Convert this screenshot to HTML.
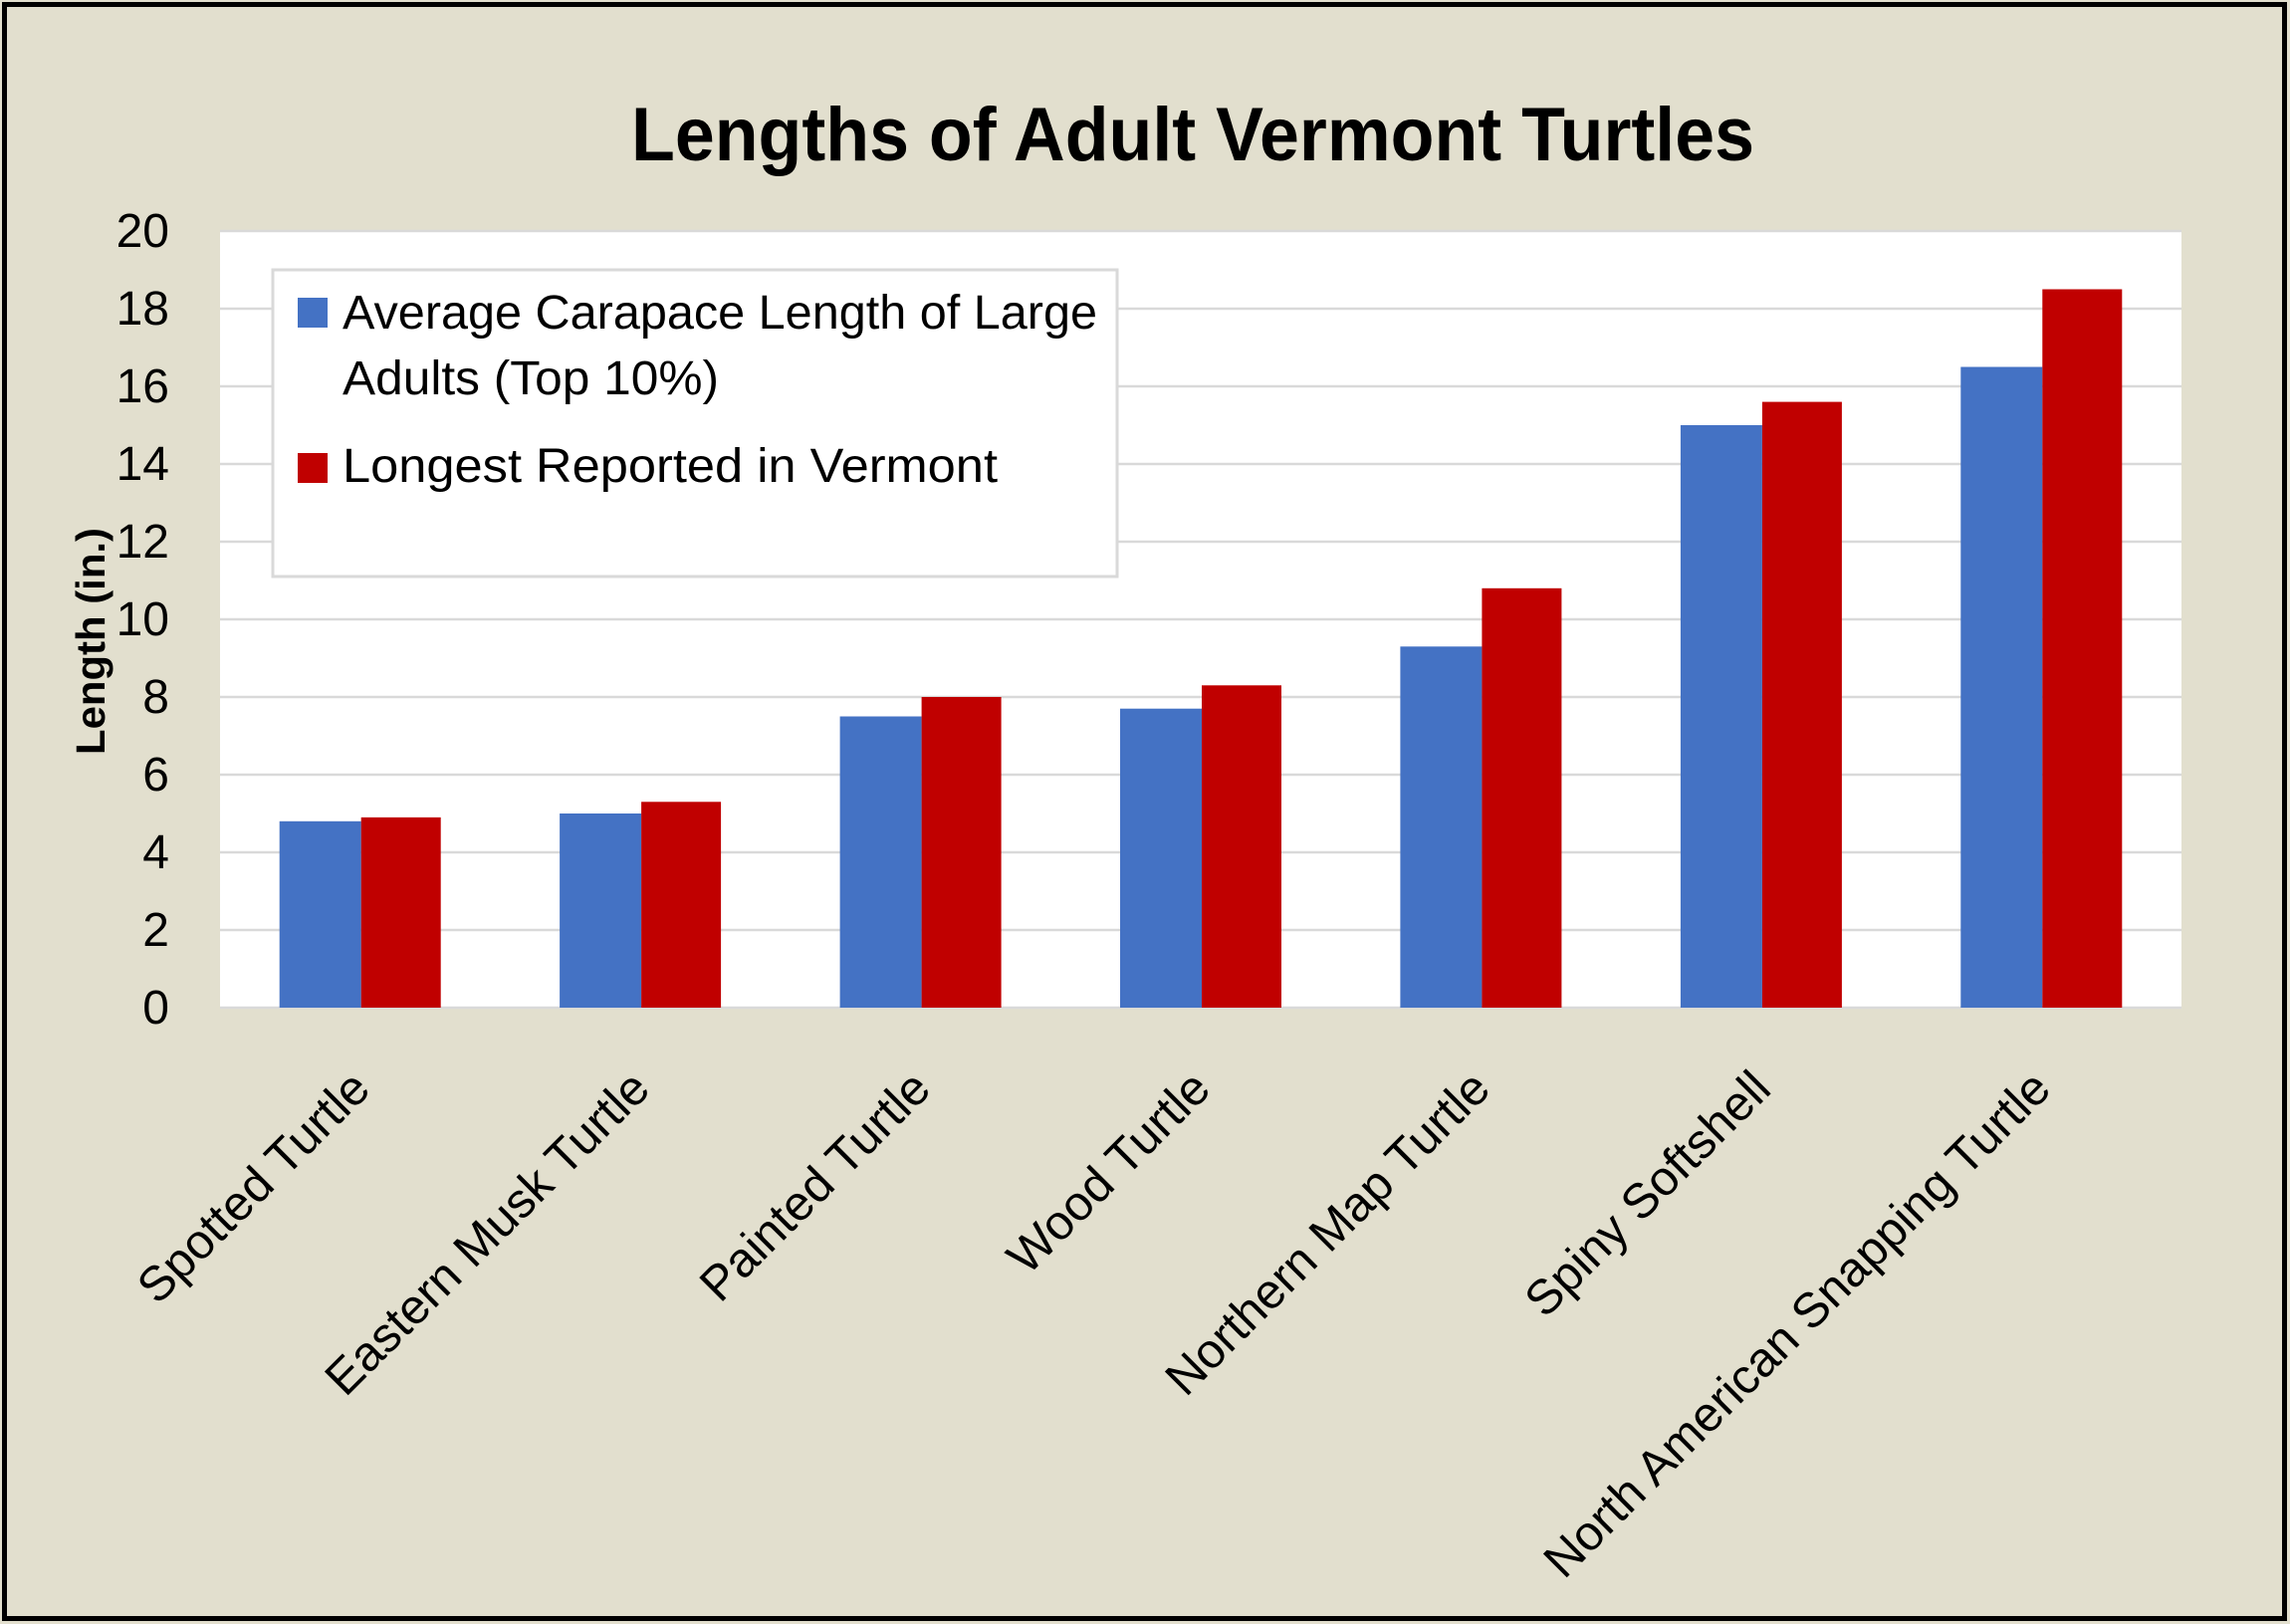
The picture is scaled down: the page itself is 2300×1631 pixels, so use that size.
<!DOCTYPE html>
<html><head><meta charset="utf-8"><style>
html,body{margin:0;padding:0;background:#E2DFCE;}
svg{display:block;}
</style></head><body>
<svg width="2300" height="1631" viewBox="0 0 2300 1631" xmlns="http://www.w3.org/2000/svg" font-family="Liberation Sans, sans-serif">
<rect x="0" y="0" width="2300" height="1631" fill="#E2DFCE"/>
<rect x="4.5" y="4.5" width="2290" height="1621" fill="none" stroke="#000" stroke-width="5"/>
<text x="1198" y="161" font-size="76" font-weight="bold" text-anchor="middle" textLength="1128" lengthAdjust="spacingAndGlyphs">Lengths of Adult Vermont Turtles</text>
<rect x="221" y="232" width="1970" height="780" fill="#fff"/>
<g stroke="#d9d9d9" stroke-width="2.5">
<line x1="221" x2="2191" y1="232" y2="232"/>
<line x1="221" x2="2191" y1="310" y2="310"/>
<line x1="221" x2="2191" y1="388" y2="388"/>
<line x1="221" x2="2191" y1="466" y2="466"/>
<line x1="221" x2="2191" y1="544" y2="544"/>
<line x1="221" x2="2191" y1="622" y2="622"/>
<line x1="221" x2="2191" y1="700" y2="700"/>
<line x1="221" x2="2191" y1="778" y2="778"/>
<line x1="221" x2="2191" y1="856" y2="856"/>
<line x1="221" x2="2191" y1="934" y2="934"/>
<line x1="221" x2="2191" y1="1012" y2="1012"/>
</g>
<g font-size="48" text-anchor="end" fill="#000">
<text x="170" y="248">20</text><text x="170" y="326">18</text><text x="170" y="404">16</text>
<text x="170" y="482">14</text><text x="170" y="560">12</text><text x="170" y="638">10</text>
<text x="170" y="716">8</text><text x="170" y="794">6</text><text x="170" y="872">4</text>
<text x="170" y="950">2</text><text x="170" y="1028">0</text>
</g>
<text transform="translate(105,644) rotate(-90)" font-size="41" font-weight="bold" text-anchor="middle" textLength="228" lengthAdjust="spacingAndGlyphs">Length (in.)</text>
<g>
<rect x="280.7" y="824.8" width="82" height="187.2" fill="#4472C4"/><rect x="362.7" y="820.9" width="80" height="191.1" fill="#C00000"/>
<rect x="562.1" y="817" width="82" height="195" fill="#4472C4"/><rect x="644.1" y="805.3" width="80" height="206.7" fill="#C00000"/>
<rect x="843.6" y="719.5" width="82" height="292.5" fill="#4472C4"/><rect x="925.6" y="700" width="80" height="312" fill="#C00000"/>
<rect x="1125" y="711.7" width="82" height="300.3" fill="#4472C4"/><rect x="1207" y="688.3" width="80" height="323.7" fill="#C00000"/>
<rect x="1406.4" y="649.3" width="82" height="362.7" fill="#4472C4"/><rect x="1488.4" y="590.8" width="80" height="421.2" fill="#C00000"/>
<rect x="1687.9" y="427" width="82" height="585" fill="#4472C4"/><rect x="1769.9" y="403.6" width="80" height="608.4" fill="#C00000"/>
<rect x="1969.3" y="368.5" width="82" height="643.5" fill="#4472C4"/><rect x="2051.3" y="290.5" width="80" height="721.5" fill="#C00000"/>
</g>
<rect x="274" y="271" width="848" height="308" fill="#fff" stroke="#d9d9d9" stroke-width="3"/>
<rect x="299" y="299" width="30" height="30" fill="#4472C4"/>
<rect x="299" y="455" width="30" height="30" fill="#C00000"/>
<g font-size="48">
<text x="344" y="330" textLength="758" lengthAdjust="spacingAndGlyphs">Average Carapace Length of Large</text>
<text x="344" y="396" textLength="378" lengthAdjust="spacingAndGlyphs">Adults (Top 10%)</text>
<text x="344" y="484" textLength="658" lengthAdjust="spacingAndGlyphs">Longest Reported in Vermont</text>
</g>
<g font-size="49" text-anchor="end">
<text transform="translate(374,1096) rotate(-45)">Spotted Turtle</text>
<text transform="translate(655,1096) rotate(-45)">Eastern Musk Turtle</text>
<text transform="translate(937,1096) rotate(-45)">Painted Turtle</text>
<text transform="translate(1218,1096) rotate(-45)">Wood Turtle</text>
<text transform="translate(1499,1096) rotate(-45)">Northern Map Turtle</text>
<text transform="translate(1781,1096) rotate(-45)">Spiny Softshell</text>
<text transform="translate(2062,1096) rotate(-45)">North American Snapping Turtle</text>
</g>
</svg>
</body></html>
